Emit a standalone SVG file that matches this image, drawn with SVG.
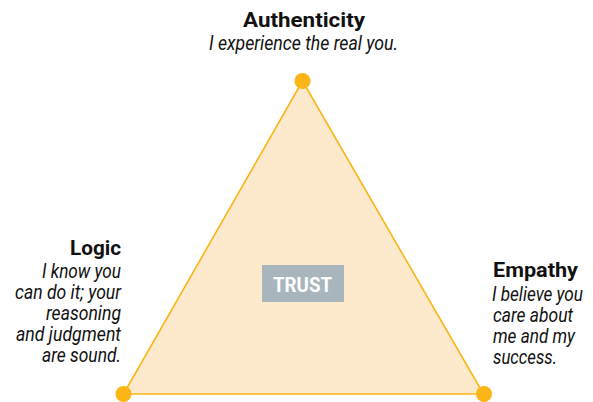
<svg xmlns="http://www.w3.org/2000/svg" width="593" height="402" viewBox="0 0 593 402">
<style>
.t{font-family:Roboto,"Liberation Sans",sans-serif;font-weight:bold;font-size:21px;fill:#111;}
.s{font-family:Roboto,"Liberation Sans",sans-serif;font-style:italic;font-size:19.5px;fill:#111;}
.dot{fill:#fbb516;}
</style>
<rect width="593" height="402" fill="#ffffff"/>
<g id="connectors">
<polygon points="302.5,81 123.5,394 483.5,394" fill="#fde9cc" stroke="#fbb516" stroke-width="1.6" stroke-linejoin="round"/>
</g>
<g id="trust">
<rect x="262" y="265" width="82" height="37" fill="#a8b5bd"/>
<text x="302.5" y="292" text-anchor="middle" font-family="Roboto,'Liberation Sans',sans-serif" font-weight="bold" font-size="19.5" fill="#ffffff" textLength="59" lengthAdjust="spacingAndGlyphs">TRUST</text>
</g>
<g id="authenticity">
<circle class="dot" cx="302.5" cy="81" r="8"/>
<text class="t" x="304" y="27" text-anchor="middle" textLength="122" lengthAdjust="spacingAndGlyphs">Authenticity</text>
<text class="s" x="303.5" y="50" text-anchor="middle" textLength="189" lengthAdjust="spacingAndGlyphs">I experience the real you.</text>
</g>
<g id="logic">
<circle class="dot" cx="123.5" cy="394" r="8"/>
<text class="t" x="121" y="255" text-anchor="end" textLength="51" lengthAdjust="spacingAndGlyphs">Logic</text>
<text class="s" x="121" y="278" text-anchor="end" textLength="79" lengthAdjust="spacingAndGlyphs">I know you</text>
<text class="s" x="121" y="299" text-anchor="end" textLength="106" lengthAdjust="spacingAndGlyphs">can do it; your</text>
<text class="s" x="121" y="320" text-anchor="end" textLength="75" lengthAdjust="spacingAndGlyphs">reasoning</text>
<text class="s" x="121" y="341" text-anchor="end" textLength="105" lengthAdjust="spacingAndGlyphs">and judgment</text>
<text class="s" x="121" y="362" text-anchor="end" textLength="79" lengthAdjust="spacingAndGlyphs">are sound.</text>
</g>
<g id="empathy">
<circle class="dot" cx="484" cy="394" r="8"/>
<text class="t" x="493" y="277" textLength="85" lengthAdjust="spacingAndGlyphs">Empathy</text>
<text class="s" x="492" y="301" textLength="91" lengthAdjust="spacingAndGlyphs">I believe you</text>
<text class="s" x="493" y="322" textLength="80" lengthAdjust="spacingAndGlyphs">care about</text>
<text class="s" x="493" y="343" textLength="82" lengthAdjust="spacingAndGlyphs">me and my</text>
<text class="s" x="493" y="364" textLength="64" lengthAdjust="spacingAndGlyphs">success.</text>
</g>
</svg>
